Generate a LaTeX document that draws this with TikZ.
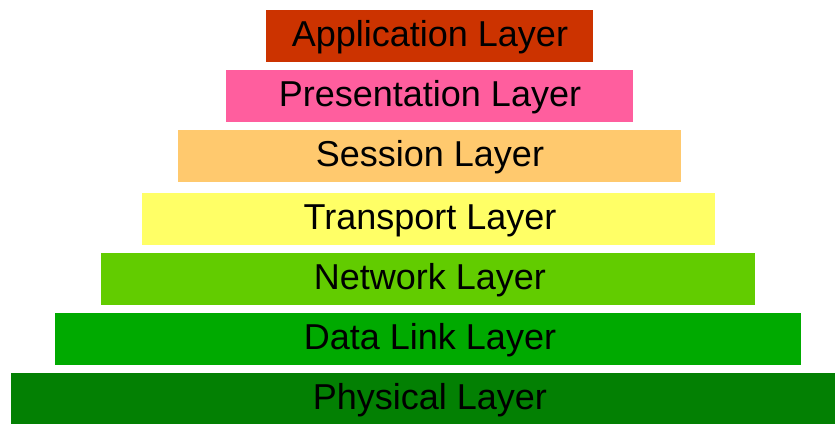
\documentclass[tikz,border=0pt]{standalone}
\usepackage{fontspec}
\setmainfont{Liberation Sans}
\usepackage{tikz}
\usetikzlibrary{positioning}
\usepackage{xcolor}

\definecolor{appcol}{HTML}{CC3300}
\definecolor{prescol}{HTML}{FF5E9E}
\definecolor{sesscol}{HTML}{FFC96E}
\definecolor{transcol}{HTML}{FFFF66}
\definecolor{netcol}{HTML}{62CC00}
\definecolor{linkcol}{HTML}{00AA00}
\definecolor{physcol}{HTML}{038003}

\tikzset{layer/.style={rectangle, inner sep=0pt, minimum height=52pt}}

\begin{document}
\begin{tikzpicture}[x=1pt, y=-1pt]
        \useasboundingbox (0,0) rectangle (835,423);

        \node[layer, fill=appcol,   minimum width=327pt] (APP)   at (429.2,36)  {};
        \node[layer, fill=prescol,  minimum width=407pt] (PRES)  at (429.2,96.2) {};
        \node[layer, fill=sesscol,  minimum width=503pt] (SESS)  at (429,156.4) {};
        \node[layer, fill=transcol, minimum width=573pt] (TRANS) at (428.2,218.5) {};
        \node[layer, fill=netcol,   minimum width=654pt] (NET)   at (428,278.8) {};
        \node[layer, fill=linkcol,  minimum width=746pt] (LINK)  at (427.8,339) {};
        \node[layer, fill=physcol,  minimum width=825pt] (PHYS)  at (423.5,398.5) {};

        \foreach \n/\t in {APP/Application Layer, PRES/Presentation Layer,
                           SESS/Session Layer, TRANS/Transport Layer,
                           NET/Network Layer, LINK/Data Link Layer,
                           PHYS/Physical Layer}
            \node[inner sep=0pt, anchor=base, yshift=-10.5pt,
                  font=\fontsize{36}{40}\selectfont] at (430,0 |- \n) {\t};

    \end{tikzpicture}
\end{document}
